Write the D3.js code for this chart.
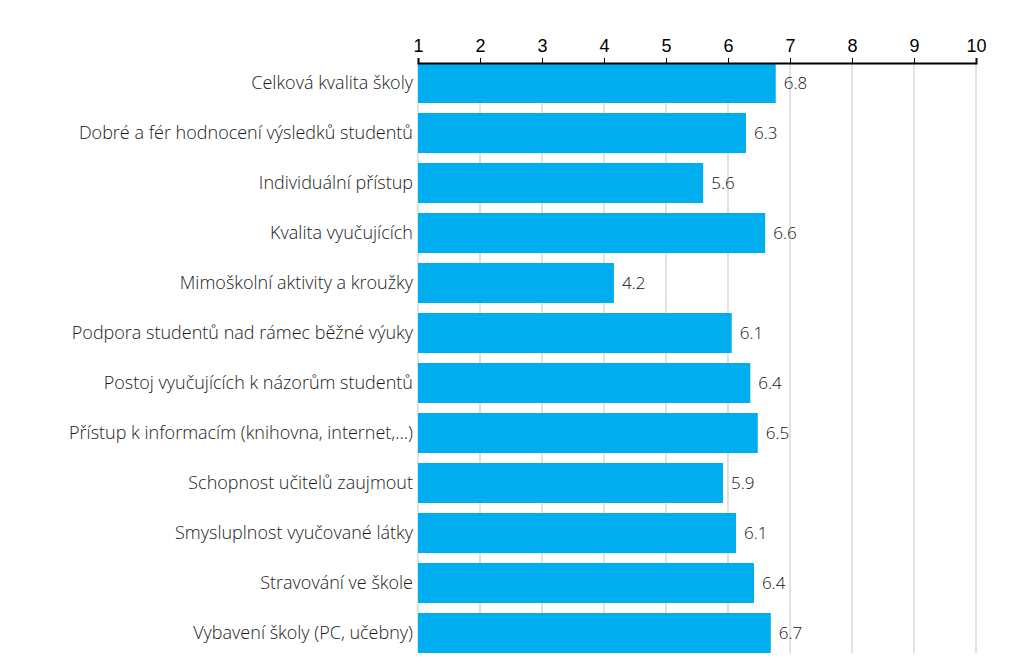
<!DOCTYPE html>
<html>
<head>
<meta charset="utf-8">
<script src="https://cdn.jsdelivr.net/npm/d3@7"></script>
<style>
  body { margin: 0; background: #fff; }
  .cat { font-family: "Open Sans", "Noto Sans", sans-serif; font-weight: 300; font-size: 18px; fill: #1a1a1a; }
  .val { font-family: "Open Sans", "Noto Sans", sans-serif; font-weight: 300; font-size: 17px; fill: #111; }
  .tick text { font-family: "Liberation Sans", Arial, sans-serif; font-size: 18px; fill: #000; }
</style>
</head>
<body>
<div class="chart"></div>
<script>
// categories and their scores (labels show one decimal)
var categories = [
  "Celková kvalita školy",
  "Dobré a fér hodnocení výsledků studentů",
  "Individuální přístup",
  "Kvalita vyučujících",
  "Mimoškolní aktivity a kroužky",
  "Podpora studentů nad rámec běžné výuky",
  "Postoj vyučujících k názorům studentů",
  "Přístup k informacím (knihovna, internet,...)",
  "Schopnost učitelů zaujmout",
  "Smysluplnost vyučované látky",
  "Stravování ve škole",
  "Vybavení školy (PC, učebny)"
];
var scores = [6.77, 6.29, 5.6, 6.6, 4.16, 6.06, 6.36, 6.48, 5.92, 6.13, 6.42, 6.69];
var tickValues = [1, 2, 3, 4, 5, 6, 7, 8, 9, 10];

var svgWidth = 1024;
var svgHeight = 672;

var margin = { top: 63, right: 48, bottom: 19, left: 418 };
var height = svgHeight - margin.top - margin.bottom;

var data = categories.map(function(c, i) {
  return { category: c, score: scores[i] };
});

var svg = d3.select(".chart")
  .append("svg")
  .attr("width", svgWidth)
  .attr("height", svgHeight);

var chartGroup = svg.append("g")
  .attr("transform", `translate(${margin.left}, ${margin.top})`);

// scales
var xScale = d3.scaleLinear()
  .domain([1, 10])
  .range([0, 558]);

var yScale = d3.scaleBand()
  .domain(categories)
  .range([-5, 595])
  .paddingInner(0.2)
  .paddingOuter(0.1);

// vertical gridlines
chartGroup.append("g")
  .selectAll("line")
  .data(tickValues)
  .enter()
  .append("line")
  .attr("x1", d => xScale(d))
  .attr("x2", d => xScale(d))
  .attr("y1", 0)
  .attr("y2", height)
  .attr("stroke", "#d9d9d9")
  .attr("stroke-width", 1.5);

// bars
chartGroup.selectAll("rect")
  .data(data)
  .enter()
  .append("rect")
  .attr("x", xScale(1))
  .attr("y", d => yScale(d.category))
  .attr("width", d => xScale(d.score) - xScale(1))
  .attr("height", yScale.bandwidth())
  .attr("fill", "#00aeef");

// value labels
chartGroup.selectAll(".val")
  .data(data)
  .enter()
  .append("text")
  .attr("class", "val")
  .attr("x", d => xScale(d.score) + 8)
  .attr("y", d => yScale(d.category) + yScale.bandwidth() / 2)
  .attr("dy", "0.35em")
  .text(d => d.score.toFixed(1));

// category labels
chartGroup.selectAll(".cat")
  .data(data)
  .enter()
  .append("text")
  .attr("class", "cat")
  .attr("x", -5)
  .attr("y", d => yScale(d.category) + yScale.bandwidth() / 2)
  .attr("dy", "0.35em")
  .attr("text-anchor", "end")
  .text(d => d.category);

// top axis
var xAxis = d3.axisTop(xScale)
  .tickValues(tickValues)
  .tickSize(5)
  .tickPadding(6)
  .tickFormat(d3.format("d"));

var axisGroup = chartGroup.append("g").call(xAxis);
axisGroup.select(".domain").attr("stroke", "#000").attr("stroke-width", 2);
axisGroup.selectAll(".tick line").attr("stroke", "#000");
</script>
</body>
</html>
